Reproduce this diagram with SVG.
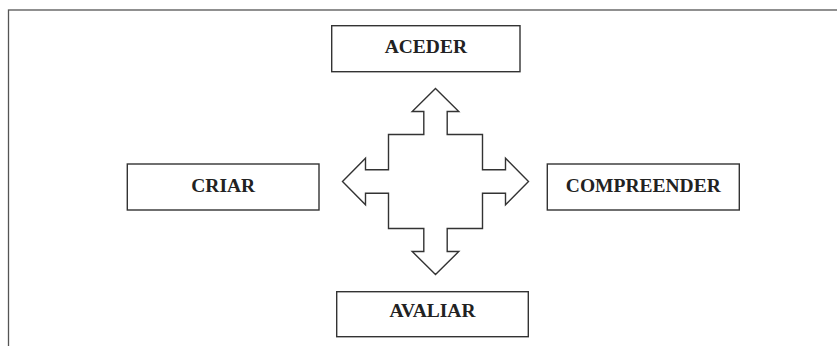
<svg xmlns="http://www.w3.org/2000/svg" width="837" height="346" viewBox="0 0 837 346">
  <style>
    .box { fill: #ffffff; stroke: #333333; stroke-width: 1.4; }
    .label { font-family: "Liberation Serif", "Times New Roman", serif; font-weight: bold; font-size: 19.5px; fill: #222222; text-anchor: middle; }
    .frame { fill: none; stroke: #555555; stroke-width: 1.3; }
    .cross { fill: #ffffff; stroke: #333333; stroke-width: 1.4; stroke-linejoin: miter; }
  </style>
  <rect x="0" y="0" width="837" height="346" fill="#ffffff"/>
  <!-- outer frame (right and bottom edges run past the page) -->
  <rect class="frame" x="8.5" y="10" width="840" height="350"/>

  <g id="connectors">
    <!-- four-way arrow -->
    <polygon class="cross" points="435.5,88.5 458.8,111.5 447.2,111.5 447.2,134.5 482.5,134.5 482.5,169.8 505.5,169.8 505.5,158.2 528.5,181.5 505.5,204.8 505.5,193.2 482.5,193.2 482.5,228.5 447.2,228.5 447.2,251.5 458.8,251.5 435.5,274.5 412.2,251.5 423.8,251.5 423.8,228.5 388.5,228.5 388.5,193.2 365.5,193.2 365.5,204.8 342.5,181.5 365.5,158.2 365.5,169.8 388.5,169.8 388.5,134.5 423.8,134.5 423.8,111.5 412.2,111.5"/>
  </g>

  <g id="aceder">
    <rect class="box" x="331.7" y="25.7" width="188.3" height="46"/>
    <text class="label" x="425.8" y="53.3">ACEDER</text>
  </g>
  <g id="criar">
    <rect class="box" x="127.3" y="164" width="191.7" height="46"/>
    <text class="label" x="223.2" y="191.6">CRIAR</text>
  </g>
  <g id="compreender">
    <rect class="box" x="547.3" y="164" width="192" height="46"/>
    <text class="label" x="643.3" y="191.6">COMPREENDER</text>
  </g>
  <g id="avaliar">
    <rect class="box" x="336.7" y="291.7" width="191.6" height="45"/>
    <text class="label" x="432.5" y="316.6">AVALIAR</text>
  </g>
</svg>
